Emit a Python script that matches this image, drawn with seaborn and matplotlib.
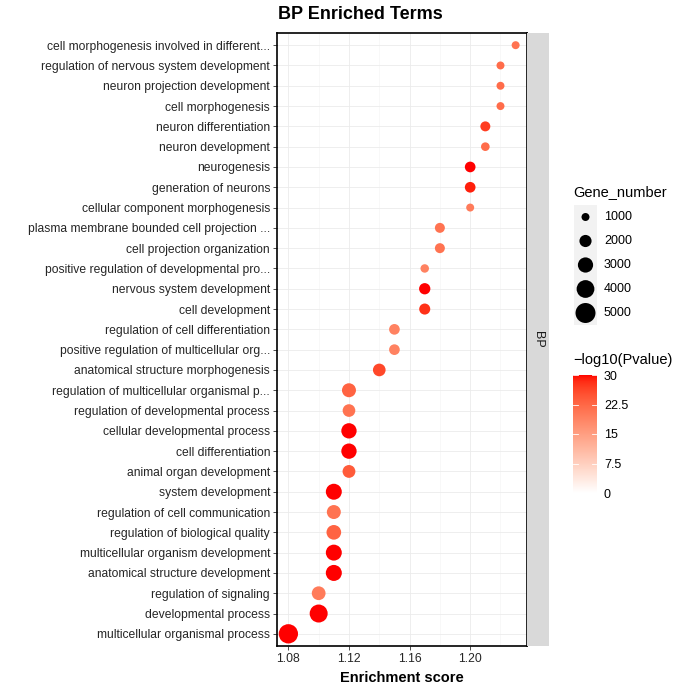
import numpy as np
import pandas as pd
import matplotlib
matplotlib.use("Agg")
import matplotlib.pyplot as plt
import seaborn as sns
from matplotlib.colors import ListedColormap, Normalize
from matplotlib.colorbar import ColorbarBase

terms = [
    "cell morphogenesis involved in different...",
    "regulation of nervous system development",
    "neuron projection development",
    "cell morphogenesis",
    "neuron differentiation",
    "neuron development",
    "neurogenesis",
    "generation of neurons",
    "cellular component morphogenesis",
    "plasma membrane bounded cell projection ...",
    "cell projection organization",
    "positive regulation of developmental pro...",
    "nervous system development",
    "cell development",
    "regulation of cell differentiation",
    "positive regulation of multicellular org...",
    "anatomical structure morphogenesis",
    "regulation of multicellular organismal p...",
    "regulation of developmental process",
    "cellular developmental process",
    "cell differentiation",
    "animal organ development",
    "system development",
    "regulation of cell communication",
    "regulation of biological quality",
    "multicellular organism development",
    "anatomical structure development",
    "regulation of signaling",
    "developmental process",
    "multicellular organismal process",
]
enrichment = [1.23, 1.22, 1.22, 1.22, 1.21, 1.21, 1.20, 1.20, 1.20, 1.18,
              1.18, 1.17, 1.17, 1.17, 1.15, 1.15, 1.14, 1.12, 1.12, 1.12,
              1.12, 1.12, 1.11, 1.11, 1.11, 1.11, 1.11, 1.10, 1.10, 1.08]
gene_number = [500, 1000, 1000, 1000, 1430, 1130, 1600, 1600, 1000, 1430,
               1430, 1100, 1760, 1700, 1600, 1600, 2150, 2570, 2150, 3040,
               3040, 2200, 3280, 2570, 2800, 3280, 3300, 2500, 4100, 4680]
neg_log_p = [21, 22, 22, 22, 27, 22, 30, 29, 20, 21,
             21, 19, 30, 28, 19, 19, 26, 23, 21, 30,
             30, 24, 30, 21, 23, 30, 30, 20, 30, 30]
legend_sizes = [1000, 2000, 3000, 4000, 5000]
cbar_ticks = [0, 7.5, 15, 22.5, 30]

df = pd.DataFrame({"term": terms, "score": enrichment,
                   "genes": gene_number, "p": neg_log_p})


# white -> red gradient interpolated in Lab space (like ggplot)
def to_lab(rgb):
    rgb = np.asarray(rgb, float)
    c = np.where(rgb <= 0.04045, rgb / 12.92, ((rgb + 0.055) / 1.055) ** 2.4)
    M = np.array([[0.4124, 0.3576, 0.1805], [0.2126, 0.7152, 0.0722], [0.0193, 0.1192, 0.9505]])
    xyz = M @ c / np.array([0.95047, 1.0, 1.08883])
    f = np.where(xyz > 0.008856, np.cbrt(xyz), 7.787 * xyz + 16 / 116)
    return np.array([116 * f[1] - 16, 500 * (f[0] - f[1]), 200 * (f[1] - f[2])])


def from_lab(lab):
    L, a, b = lab
    fy = (L + 16) / 116
    fx, fz = fy + a / 500, fy - b / 200
    f = np.array([fx, fy, fz])
    xyz = np.where(f ** 3 > 0.008856, f ** 3, (f - 16 / 116) / 7.787) * np.array([0.95047, 1.0, 1.08883])
    Minv = np.array([[3.2406, -1.5372, -0.4986], [-0.9689, 1.8758, 0.0415], [0.0557, -0.2040, 1.0570]])
    c = Minv @ xyz
    rgb = np.where(c <= 0.0031308, 12.92 * c, 1.055 * np.abs(c) ** (1 / 2.4) - 0.055)
    return np.clip(rgb, 0, 1)


lab_lo, lab_hi = to_lab([1, 1, 1]), to_lab([1, 0, 0])
cmap = ListedColormap([from_lab(lab_lo + t * (lab_hi - lab_lo)) for t in np.linspace(0, 1, 256)])

size_range = (33, 207)
size_norm = (1000, 5000)

plt.rcParams["font.family"] = ["Liberation Sans", "DejaVu Sans"]
fig = plt.figure(figsize=(6.9, 6.9), dpi=100)
ax = fig.add_axes([277 / 690, 1 - 646 / 690, 250 / 690, 613 / 690])

sns.scatterplot(data=df, x="score", y="term", hue="p", size="genes",
                palette=cmap, hue_norm=(0, 30), sizes=size_range, size_norm=size_norm,
                linewidth=0, legend=False, ax=ax, zorder=3)

ax.set_xlim(1.0725, 1.2375)
ax.set_ylim(len(terms) - 0.4, -0.6)
ax.set_xticks([1.08, 1.12, 1.16, 1.20])
ax.set_xticklabels(["1.08", "1.12", "1.16", "1.20"])
ax.set_xticks([1.10, 1.14, 1.18, 1.22], minor=True)
ax.grid(True, which="major", color="#EBEBEB", linewidth=0.6, zorder=0)
ax.grid(True, which="minor", axis="x", color="#F4F4F4", linewidth=0.4, zorder=0)
ax.set_axisbelow(True)
ax.tick_params(axis="both", which="major", length=3, width=0.6, color="#333333",
               labelsize=8.7, labelcolor="#262626", pad=2)
ax.tick_params(axis="x", which="minor", length=0)
for s in ax.spines.values():
    s.set_color("black")
    s.set_linewidth(1.2)
ax.set_ylabel("")
ax.set_xlabel("Enrichment score", fontsize=10.5, fontweight="bold", labelpad=4)
fig.text(278 / 690, 1 - 14.5 / 690, "BP Enriched Terms", fontsize=13, fontweight="bold",
         ha="left", va="center")

# facet strip
strip = fig.add_axes([527 / 690, 1 - 646 / 690, 22 / 690, 613 / 690])
strip.set_facecolor("#D9D9D9")
strip.set_xticks([])
strip.set_yticks([])
for s in strip.spines.values():
    s.set_visible(False)
strip.text(0.5, 0.5, "BP", rotation=-90, ha="center", va="center", fontsize=9,
           color="#1A1A1A", transform=strip.transAxes)

# size legend
fig.text(573 / 690, 1 - 192 / 690, "Gene_number", fontsize=10.5, va="center", ha="left")
lax = fig.add_axes([574 / 690, 1 - 325 / 690, 23 / 690, 120 / 690])
lax.set_facecolor("#F2F2F2")
lax.set_xlim(0, 1)
lax.set_ylim(len(legend_sizes) - 0.5, -0.5)
lax.set_xticks([])
lax.set_yticks([])
for s in lax.spines.values():
    s.set_visible(False)
leg_s = [size_range[0] + (v - size_norm[0]) / (size_norm[1] - size_norm[0]) * (size_range[1] - size_range[0])
         for v in legend_sizes]
lax.scatter([0.5] * len(legend_sizes), range(len(legend_sizes)), s=leg_s, c="black", linewidths=0)
for i, v in enumerate(legend_sizes):
    lax.text(1.3, i, str(v), fontsize=9, va="center", ha="left", clip_on=False)

# colour bar
fig.text(573 / 690, 1 - 360 / 690, "\u2212log10(Pvalue)", fontsize=10.5, va="center", ha="left")
cax = fig.add_axes([573 / 690, 1 - 493 / 690, 24 / 690, 118 / 690])
cb = ColorbarBase(cax, cmap=cmap, norm=Normalize(0, 30), ticks=cbar_ticks)
cb.outline.set_visible(False)
cb.ax.set_yticklabels(["0", "7.5", "15", "22.5", "30"])
cb.ax.tick_params(length=0, labelsize=9, pad=5)
for t in cbar_ticks:
    cax.plot([0, 0.2], [t, t], color="white", lw=0.6)
    cax.plot([0.8, 1], [t, t], color="white", lw=0.6)

fig.savefig("out.png", dpi=100)
